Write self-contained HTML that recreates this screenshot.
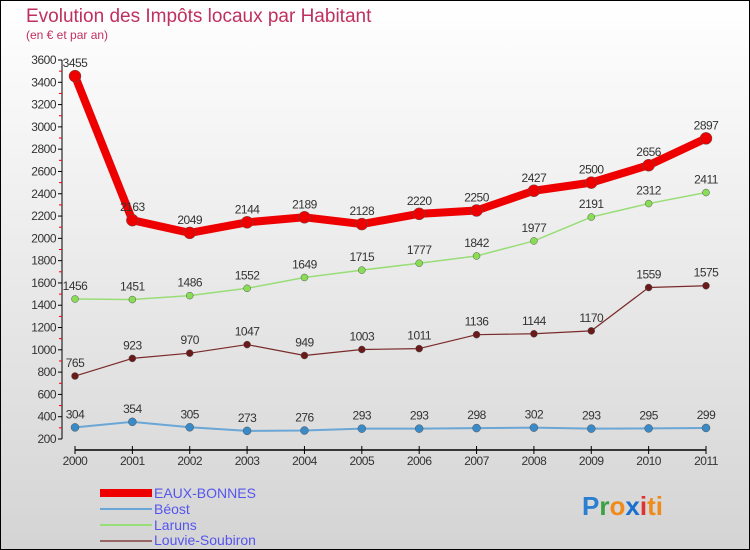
<!DOCTYPE html>
<html><head><meta charset="utf-8"><style>
body{margin:0;}
svg{display:block;font-family:"Liberation Sans",sans-serif;}
</style></head><body>
<svg id="c" width="750" height="550" xmlns="http://www.w3.org/2000/svg">
<defs><linearGradient id="bg" x1="0" y1="0" x2="0" y2="1"><stop offset="0" stop-color="#ffffff"/><stop offset="1" stop-color="#d4d4d4"/></linearGradient></defs>
<rect x="0.5" y="0.5" width="749" height="549" fill="url(#bg)" stroke="#000"/>
<text x="26" y="22" font-size="19" fill="#c0305e">Evolution des Impôts locaux par Habitant</text>
<text x="26" y="39" font-size="12" fill="#c0305e">(en € et par an)</text>
<g id="axes"></g><g id="series"></g>
<g>
<rect x="100" y="489" width="52" height="8" fill="#e00"/>
<text x="154" y="498" font-size="14" fill="#5555ee">EAUX-BONNES</text>
<rect x="100" y="508" width="52" height="2" fill="#6aa6d6"/>
<text x="154" y="514" font-size="14" fill="#5555ee">Béost</text>
<rect x="100" y="524" width="52" height="2" fill="#99dd77"/>
<text x="154" y="530" font-size="14" fill="#5555ee">Laruns</text>
<rect x="100" y="540" width="52" height="2" fill="#996666"/>
<text x="154" y="545" font-size="14" fill="#5555ee">Louvie-Soubiron</text>
</g>
<text x="582" y="515" font-size="26" font-weight="bold"><tspan fill="#2a7fd0">P</tspan><tspan fill="#3aa040">r</tspan><tspan fill="#f08a1a">o</tspan><tspan fill="#1a70d0">x</tspan><tspan fill="#e03030">i</tspan><tspan fill="#f08a1a">ti</tspan></text>
</svg>
<script>
const years=["2000","2001","2002","2003","2004","2005","2006","2007","2008","2009","2010","2011"];
const eauxBonnes=[3455,2163,2049,2144,2189,2128,2220,2250,2427,2500,2656,2897];
const beost=[304,354,305,273,276,293,293,298,302,293,295,299];
const laruns=[1456,1451,1486,1552,1649,1715,1777,1842,1977,2191,2312,2411];
const louvie=[765,923,970,1047,949,1003,1011,1136,1144,1170,1559,1575];
const yTicks=[200,400,600,800,1000,1200,1400,1600,1800,2000,2200,2400,2600,2800,3000,3200,3400,3600];
const NS="http://www.w3.org/2000/svg";
const X=i=>75+i*(706-75)/(years.length-1);
const Y=v=>439-(v-200)*379/3400;
function mk(t,a,p){const e=document.createElementNS(NS,t);for(const k in a)e.setAttribute(k,a[k]);p.appendChild(e);return e;}
const ax=document.getElementById('axes'),se=document.getElementById('series');
mk('line',{x1:62,y1:Y(3600),x2:62,y2:Y(200),stroke:'#000'},ax);
mk('line',{x1:75,y1:450,x2:706,y2:450,stroke:'#000','stroke-width':1.5},ax);
yTicks.forEach((v,i)=>{
 mk('line',{x1:58,y1:Y(v),x2:62,y2:Y(v),stroke:'#000'},ax);
 if(i<yTicks.length-1)mk('line',{x1:59,y1:Y(v+100),x2:62,y2:Y(v+100),stroke:'#e00'},ax);
 const t=mk('text',{x:56,y:Y(v)+4,'font-size':12,fill:'#333','text-anchor':'end','letter-spacing':'-0.5'},ax);
 t.textContent=v;
 
 
});
years.forEach((y,i)=>{
 mk('line',{x1:X(i),y1:446,x2:X(i),y2:454,stroke:'#000'},ax);
 const t=mk('text',{x:X(i),y:465,'font-size':12,fill:'#333','text-anchor':'middle','letter-spacing':'-0.5'},ax);
 t.textContent=y;
 
 
});
function series(data,name,color,lw,r,dot){
 const g=mk('g',{},se);
 
 
 mk('polyline',{points:data.map((v,i)=>X(i)+','+Y(v)).join(' '),fill:'none',stroke:color,'stroke-width':lw,'stroke-linejoin':'round'},g);
 data.forEach((v,i)=>{
  const c=mk('circle',{cx:X(i),cy:Y(v),r:r,fill:dot,stroke:'#555','stroke-width':0.5},g);
  
  
  const t=mk('text',{x:X(i),y:Y(v)-9,'font-size':12,fill:'#333','text-anchor':'middle','letter-spacing':'-0.5'},g);
  t.textContent=v;
  
  
 });
}
series(beost,'beost','#6aa6d6',2,4,'#3a8ac8');
series(louvie,'louvie-soubiron','#7a2a2a',1.2,3.5,'#6a1a1a');
series(laruns,'laruns','#99dd77',1.5,3.5,'#88dd55');
series(eauxBonnes,'eaux-bonnes','#ee0000',8,6,'#ee0000');
</script>
</body></html>
